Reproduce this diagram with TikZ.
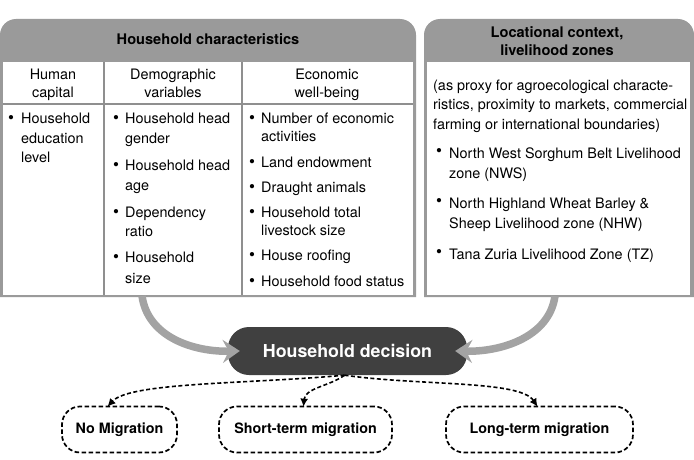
\documentclass[tikz,border=0pt]{standalone}
\usepackage{fontspec}
\setmainfont{TeX Gyre Heros}
\usetikzlibrary{arrows.meta}
\definecolor{hdr}{HTML}{9A9A9A}
\definecolor{arr}{HTML}{A3A3A3}
\definecolor{dark}{HTML}{404040}
\definecolor{rulec}{HTML}{8F8F8F}
\begin{document}
\begin{tikzpicture}[x=1pt,y=-1pt,
  txt/.style={inner sep=0pt, anchor=base west, font=\fontsize{14.4}{17}\selectfont},
  ctxt/.style={inner sep=0pt, anchor=base, font=\fontsize{14.4}{17}\selectfont},
  hd/.style={inner sep=0pt, anchor=base, font=\fontsize{14.6}{17}\selectfont\bfseries},
  bul/.style={inner sep=0pt, anchor=base west, font=\fontsize{17}{17}\selectfont},
  decbox/.style={fill=dark, rounded corners=21pt, minimum width=239pt, minimum height=48pt,
     text=white, font=\fontsize{17.8}{20}\selectfont\bfseries, inner sep=0pt},
  outbox/.style={draw=black, line width=1.7pt, dash pattern=on 4.5pt off 2.5pt, rounded corners=18pt,
     minimum height=46pt, font=\fontsize{14.3}{17}\selectfont\bfseries, inner sep=0pt},
  bigarrow/.style={draw=arr, line width=7.5pt, -{Stealth[length=17pt,width=23pt,inset=6pt]}},
  dasharrow/.style={draw=black, line width=1.6pt, dash pattern=on 4pt off 2.5pt, -{Latex[length=8pt,width=8pt]}}
]
\useasboundingbox (0,0) rectangle (694,460);

% left box
\fill[hdr] (0,297) [rounded corners=16pt] -- (0,19) -- (416,19) [sharp corners] -- (416,297) -- cycle;
\fill[white] (3,62) rectangle (413,295);
\draw[rulec, line width=1.4pt] (3,104) -- (413,104);
\draw[rulec, line width=1.4pt] (104,62) -- (104,295);
\draw[rulec, line width=1.4pt] (242,62) -- (242,295);

% right box
\fill[hdr] (424,297) [rounded corners=16pt] -- (424,19) -- (694,19) [sharp corners] -- (694,297) -- cycle;
\fill[white] (427,62) rectangle (690,295);

\coordinate (lbot) at (142,296);
\coordinate (rbot) at (555,296);

% headers
\node[hd] (h1) at (208,45) {Household characteristics};
\node[hd] (h2a) at (557,38) {Locational context,};
\node[hd] (h2b) at (557,56) {livelihood zones};

% column headers
\node[ctxt] (c1a) at (53,80) {Human};
\node[ctxt] (c1b) at (53,98) {capital};
\node[ctxt] (c2a) at (173,80) {Demographic};
\node[ctxt] (c2b) at (173,98) {variables};
\node[ctxt] (c3a) at (327,80) {Economic};
\node[ctxt] (c3b) at (327,98) {well-being};

% column 1
\node[bul] (b11) at (8,123) {•};
\node[txt] (t11a) at (21,123) {Household};
\node[txt] (t11b) at (21,143) {education};
\node[txt] (t11c) at (21,162) {level};

% column 2
\node[bul] (b21) at (113,123) {•};
\node[txt] (t21a) at (125,123) {Household head};
\node[txt] (t21b) at (125,143) {gender};
\node[bul] (b22) at (113,170) {•};
\node[txt] (t22a) at (125,170) {Household head};
\node[txt] (t22b) at (125,190) {age};
\node[bul] (b23) at (113,217) {•};
\node[txt] (t23a) at (125,217) {Dependency};
\node[txt] (t23b) at (125,236) {ratio};
\node[bul] (b24) at (113,262) {•};
\node[txt] (t24a) at (125,262) {Household};
\node[txt] (t24b) at (125,283) {size};

% column 3
\node[bul] (b31) at (249,123) {•};
\node[txt] (t31a) at (261,123) {Number of economic};
\node[txt] (t31b) at (261,141) {activities};
\node[bul] (b32) at (249,167) {•};
\node[txt] (t32) at (261,167) {Land endowment};
\node[bul] (b33) at (249,192) {•};
\node[txt] (t33) at (261,192) {Draught animals};
\node[bul] (b34) at (249,217) {•};
\node[txt] (t34a) at (261,217) {Household total};
\node[txt] (t34b) at (261,235) {livestock size};
\node[bul] (b35) at (249,260) {•};
\node[txt] (t35) at (261,260) {House roofing};
\node[bul] (b36) at (249,286) {•};
\node[txt] (t36) at (261,286) {Household food status};

% right box text
\node[txt] (r1) at (433,91) {(as proxy for agroecological characte-};
\node[txt] (r2) at (433,110) {ristics, proximity to markets, commercial};
\node[txt] (r3) at (433,129) {farming or international boundaries)};
\node[bul] (rb1) at (436,156) {•};
\node[txt] (r4a) at (449,158) {North West Sorghum Belt Livelihood};
\node[txt] (r4b) at (449,178) {zone (NWS)};
\node[bul] (rb2) at (436,206) {•};
\node[txt] (r5a) at (449,208) {North Highland Wheat Barley \&};
\node[txt] (r5b) at (449,228) {Sheep Livelihood zone (NHW)};
\node[bul] (rb3) at (436,257) {•};
\node[txt] (r6) at (449,259) {Tana Zuria Livelihood Zone (TZ)};

% decision
\node[decbox] (dec) at (347.5,351) {Household decision};

% outcomes
\node[outbox, minimum width=115pt] (nm) at (119.5,429.5) {No Migration};
\node[outbox, minimum width=173pt] (st) at (305.5,429.5) {Short-term migration};
\node[outbox, minimum width=187pt] (lt) at (539.5,429.5) {Long-term migration};

% big gray arrows
\draw[bigarrow] (lbot) .. controls (148,338) and (195,352) .. ([xshift=12pt]dec.west);
\draw[bigarrow] (rbot) .. controls (549,338) and (500,352) .. ([xshift=-12pt]dec.east);

% dashed arrows
\draw[dasharrow] ([xshift=-3pt]dec.south) .. controls (250,384) and (130,382) .. ([xshift=-12pt,yshift=-1pt]nm.north);
\draw[dasharrow] ([xshift=-3pt]dec.south) .. controls (330,386) and (305,388) .. ([xshift=-2pt,yshift=-1pt]st.north);
\draw[dasharrow] ([xshift=-3pt]dec.south) .. controls (420,386) and (520,380) .. ([xshift=-2pt,yshift=-1pt]lt.north);
\end{tikzpicture}
\end{document}
